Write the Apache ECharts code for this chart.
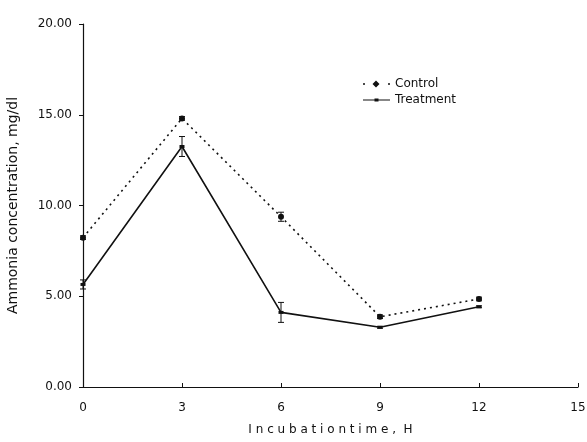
<!DOCTYPE html>
<html><head><meta charset="utf-8">
<script src="https://cdn.jsdelivr.net/npm/echarts@6/dist/echarts.min.js"></script>
<style>html,body{margin:0;padding:0;background:#fff}#c{width:587px;height:442px}</style>
</head><body><div id="c"></div>
<script>
const hours = [0, 3, 6, 9, 12];
const control = [8.23, 14.8, 9.38, 3.87, 4.85];
const controlErr = [0.1, 0.1, 0.25, 0.1, 0.1];
const treatment = [5.65, 13.25, 4.11, 3.29, 4.42];
const treatmentErr = [0.25, 0.55, 0.55, 0.05, 0.05];
const yTicks = [0, 5, 10, 15, 20];
const xTicks = [0, 3, 6, 9, 12, 15];

const font = '"DejaVu Sans", Verdana, sans-serif';
function errSeries(vals, errs) {
  return {
    type: 'custom', silent: true, z: 5,
    data: hours.map((h, i) => [h, vals[i] - errs[i], vals[i] + errs[i]]),
    renderItem: (params, api) => {
      const lo = api.coord([api.value(0), api.value(1)]);
      const hi = api.coord([api.value(0), api.value(2)]);
      const w = 3;
      const st = {stroke: '#111', lineWidth: 1};
      return {type: 'group', children: [
        {type: 'line', shape: {x1: lo[0], y1: lo[1], x2: hi[0], y2: hi[1]}, style: st},
        {type: 'line', shape: {x1: lo[0]-w, y1: lo[1], x2: lo[0]+w, y2: lo[1]}, style: st},
        {type: 'line', shape: {x1: hi[0]-w, y1: hi[1], x2: hi[0]+w, y2: hi[1]}, style: st}
      ]};
    }
  };
}
const chart = echarts.init(document.getElementById('c'));
chart.setOption({
  animation: false,
  backgroundColor: '#fff',
  grid: {left: 83, right: 9, top: 24, bottom: 55, containLabel: false, outerBoundsMode: 'none'},
  legend: {
    left: 358, top: 73, orient: 'vertical', itemGap: 4, itemWidth: 27, itemHeight: 8,
    symbolKeepAspect: true,
    textStyle: {fontFamily: font, fontSize: 12, color: '#111'},
    data: [
      {name: 'Control', icon: 'path://M0,3.3 h2 v1.4 h-2 Z M13,0.5 L16.5,4 L13,7.5 L9.5,4 Z M25,3.3 h2 v1.4 h-2 Z M0,0 h0.01 v0.01 h-0.01 Z M26.99,7.99 h0.01 v0.01 h-0.01 Z'},
      {name: 'Treatment', icon: 'path://M0,3.4 h27 v1.2 h-27 Z M11.5,2.6 h4 v2.8 h-4 Z M0,0 h0.01 v0.01 h-0.01 Z M26.99,7.99 h0.01 v0.01 h-0.01 Z'}
    ]
  },
  xAxis: {
    type: 'value', min: 0, max: 15, interval: 3,
    name: 'I n c u b a t i o n t i m e ,  H', nameLocation: 'middle', nameGap: 37,
    nameTextStyle: {fontFamily: font, fontSize: 12, color: '#111'},
    axisLine: {lineStyle: {color: '#111', width: 1.2}},
    axisTick: {inside: true, length: 4, lineStyle: {color: '#111'}},
    axisLabel: {fontFamily: font, fontSize: 12, color: '#111', margin: 15},
    splitLine: {show: false}
  },
  yAxis: {
    type: 'value', min: 0, max: 20, interval: 5,
    name: 'Ammonia concentration, mg/dl', nameLocation: 'middle', nameGap: 63,
    nameTextStyle: {fontFamily: font, fontSize: 14, color: '#111'},
    axisLine: {show: true, lineStyle: {color: '#111', width: 1.2}},
    axisTick: {show: true, length: 4, lineStyle: {color: '#111'}},
    axisLabel: {fontFamily: font, fontSize: 12, color: '#111', margin: 11, formatter: v => v.toFixed(2)},
    splitLine: {show: false}
  },
  series: [
    {
      name: 'Control', type: 'line', data: hours.map((h, i) => [h, control[i]]),
      symbol: 'circle', symbolSize: 6, z: 3,
      lineStyle: {color: '#111', width: 1.6, type: [2, 4]},
      itemStyle: {color: '#111'}
    },
    {
      name: 'Treatment', type: 'line', data: hours.map((h, i) => [h, treatment[i]]),
      symbol: 'rect', symbolSize: [5, 3], z: 4,
      lineStyle: {color: '#111', width: 1.6},
      itemStyle: {color: '#111'}
    },
    errSeries(control, controlErr),
    errSeries(treatment, treatmentErr)
  ]
});
</script></body></html>
